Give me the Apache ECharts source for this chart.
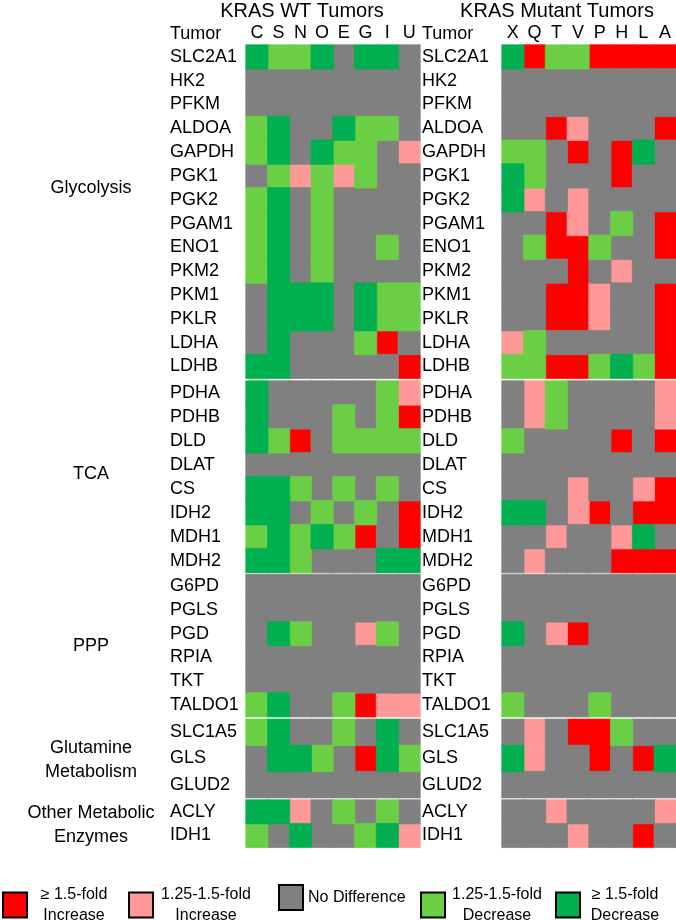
<!DOCTYPE html>
<html><head><meta charset="utf-8">
<script src="https://cdn.jsdelivr.net/npm/echarts/dist/echarts.min.js"></script>
<style>html,body{margin:0;padding:0;background:#fff}#c{width:676px;height:920px}</style>
</head><body><div id="c"></div>
<script>
const wtTumors = ['C','S','N','O','E','G','I','U'];
const mutTumors = ['X','Q','T','V','P','H','L','A'];
const groupNames = ['Glycolysis','TCA','PPP','Glutamine\nMetabolism','Other Metabolic\nEnzymes'];
const glycolysisGenes = ['SLC2A1','HK2','PFKM','ALDOA','GAPDH','PGK1','PGK2','PGAM1','ENO1','PKM2','PKM1','PKLR','LDHA','LDHB'];
const tcaGenes = ['PDHA','PDHB','DLD','DLAT','CS','IDH2','MDH1','MDH2'];
const pppGenes = ['G6PD','PGLS','PGD','RPIA','TKT','TALDO1'];
const glutamineGenes = ['SLC1A5','GLS','GLUD2'];
const otherGenes = ['ACLY','IDH1'];
// 2 = >=1.5 increase, 1 = 1.25-1.5 increase, 0 = no difference, -1 = 1.25-1.5 decrease, -2 = >=1.5 decrease
const wtGlycolysis = [
  [-2,-1,-1,-2,0,-2,-2,0],[0,0,0,0,0,0,0,0],[0,0,0,0,0,0,0,0],[-1,-2,0,0,-2,-1,-1,0],
  [-1,-2,0,-2,-1,-1,0,1],[0,-1,1,-1,1,-1,0,0],[-1,-2,0,-1,0,0,0,0],[-1,-2,0,-1,0,0,0,0],
  [-1,-2,0,-1,0,0,-1,0],[-1,-2,0,-1,0,0,0,0],[0,-2,-2,-2,0,-2,-1,-1],[0,-2,-2,-2,0,-2,-1,-1],
  [0,-2,0,0,0,-1,2,0],[-2,-2,0,0,0,0,0,2]];
const wtTca = [
  [-2,0,0,0,0,0,-1,1],[-2,0,0,0,-1,0,-1,2],[-2,-1,2,0,-1,-1,-1,-1],[0,0,0,0,0,0,0,0],
  [-2,-2,-1,0,-1,0,-1,0],[-2,-2,0,-1,0,-1,0,2],[-1,-2,-1,-2,-1,2,0,2],[-2,-2,-1,0,0,0,-2,-2]];
const wtPpp = [
  [0,0,0,0,0,0,0,0],[0,0,0,0,0,0,0,0],[0,-2,-1,0,0,1,-1,0],[0,0,0,0,0,0,0,0],
  [0,0,0,0,0,0,0,0],[-1,-2,0,0,-1,2,1,1]];
const wtGlutamine = [[-1,-2,0,0,-1,0,-2,0],[0,-2,-2,-1,0,2,-2,-1],[0,0,0,0,0,0,0,0]];
const wtOther = [[-2,-2,1,0,-1,0,-1,0],[-1,0,-2,0,0,-1,-2,1]];
const mutGlycolysis = [
  [-2,2,-1,-1,2,2,2,2],[0,0,0,0,0,0,0,0],[0,0,0,0,0,0,0,0],[0,0,2,1,0,0,0,2],
  [-1,-1,0,2,0,2,-2,0],[-2,-1,0,0,0,2,0,0],[-2,1,0,1,0,0,0,0],[0,0,2,1,0,-1,0,2],
  [0,-1,2,2,-1,0,0,2],[0,0,0,2,0,1,0,0],[0,0,2,2,1,0,0,2],[0,0,2,2,1,0,0,2],
  [1,-1,0,0,0,0,0,2],[-1,-1,2,2,-1,-2,-1,2]];
const mutTca = [
  [0,1,-1,0,0,0,0,1],[0,1,-1,0,0,0,0,1],[-1,0,0,0,0,2,0,2],[0,0,0,0,0,0,0,0],
  [0,0,0,1,0,0,1,2],[-2,-2,0,1,2,0,2,2],[0,0,1,0,0,1,-2,0],[0,1,0,0,0,2,2,2]];
const mutPpp = [
  [0,0,0,0,0,0,0,0],[0,0,0,0,0,0,0,0],[-2,0,1,2,0,0,0,0],[0,0,0,0,0,0,0,0],
  [0,0,0,0,0,0,0,0],[-1,0,0,0,-1,0,0,0]];
const mutGlutamine = [[0,1,0,2,2,-1,0,0],[-2,1,0,0,2,0,2,-2],[0,0,0,0,0,0,0,0]];
const mutOther = [[0,0,1,0,0,0,0,1],[0,0,0,1,0,0,2,0]];
const levels = [2,1,0,-1,-2];
const levelNames = ['≥ 1.5-fold Increase','1.25-1.5-fold Increase','No Difference','1.25-1.5-fold Decrease','≥ 1.5-fold Decrease'];
const levelColors = ['#FF0000','#FF9999','#808080','#6BCF45','#00B050'];

const FONT = 'Liberation Sans, Arial, Helvetica, sans-serif';
const groupGenes = [glycolysisGenes, tcaGenes, pppGenes, glutamineGenes, otherGenes];
const sides = [
  {cols: wtTumors, groups: [wtGlycolysis, wtTca, wtPpp, wtGlutamine, wtOther], left: 246, labelMargin: 76},
  {cols: mutTumors, groups: [mutGlycolysis, mutTca, mutPpp, mutGlutamine, mutOther], left: 502, labelMargin: 80}
];
const groupBox = [[45, 333.3], [381, 191.6], [574.5, 142.2], [719.3, 78.4], [800, 47.3]];

const grid = [], xAxis = [], yAxis = [], series = [];
sides.forEach((sd, s) => {
  sd.groups.forEach((vals, g) => {
    const gi = s * 5 + g;
    grid.push({left: sd.left, top: groupBox[g][0], width: 174, height: groupBox[g][1], containLabel: false, outerBoundsMode: 'none'});
    xAxis.push({type: 'category', gridIndex: gi, data: sd.cols, position: 'top', show: g === 0,
      axisLine: {show: false}, axisTick: {show: false}, splitLine: {show: false},
      axisLabel: {interval: 0, fontSize: 18, color: '#000', fontFamily: FONT, margin: 3}});
    yAxis.push({type: 'category', gridIndex: gi, data: groupGenes[g], inverse: true,
      axisLine: {show: false}, axisTick: {show: false}, splitLine: {show: false},
      axisLabel: {interval: 0, fontSize: 18, color: '#000', fontFamily: FONT, align: 'left', margin: sd.labelMargin}});
    levels.forEach((lv, li) => {
      const data = [];
      vals.forEach((row, r) => row.forEach((v, c) => { if (v === lv) data.push([c, r, v]); }));
      series.push({type: 'heatmap', name: levelNames[li], xAxisIndex: gi, yAxisIndex: gi, data: data,
        itemStyle: {color: levelColors[li], borderColor: levelColors[li], borderWidth: 0.7},
        emphasis: {disabled: true}, silent: true});
    });
  });
});

const legendWidths = [84, 96, 0, 94, 80];
const legendLefts = [2, 128, 278, 420, 555];
const legend = levelNames.map((nm, i) => ({
  data: [nm], left: legendLefts[i], top: 884, padding: 0, itemWidth: 24, itemHeight: 25, icon: 'rect',
  selectedMode: false, itemGap: 0,
  itemStyle: {borderColor: '#000', borderWidth: 2},
  textStyle: {fontSize: 16, color: '#000', fontFamily: FONT, lineHeight: 21,
    rich: {t: {width: legendWidths[i], align: 'center', fontSize: 16, lineHeight: 21, fontFamily: FONT, color: '#000'}}},
  formatter: function (name) {
    if (name === 'No Difference') return name;
    const k = name.indexOf('fold ') + 4;
    return '{t|' + name.slice(0, k) + '}\n{t|' + name.slice(k + 1) + '}';
  }
}));

const graphic = [];
graphic.push({type: 'text', x: 302, y: 11, style: {text: 'KRAS WT Tumors', fontSize: 20, fontFamily: FONT, fill: '#000', align: 'center', verticalAlign: 'middle'}});
graphic.push({type: 'text', x: 557, y: 11, style: {text: 'KRAS Mutant Tumors', fontSize: 20, fontFamily: FONT, fill: '#000', align: 'center', verticalAlign: 'middle'}});
graphic.push({type: 'text', x: 170, y: 34, style: {text: 'Tumor', fontSize: 18, fontFamily: FONT, fill: '#000', align: 'left', verticalAlign: 'middle'}});
graphic.push({type: 'text', x: 422, y: 34, style: {text: 'Tumor', fontSize: 18, fontFamily: FONT, fill: '#000', align: 'left', verticalAlign: 'middle'}});
const groupLabelY = [188, 474, 646, 760, 825];
groupNames.forEach((gn, g) => {
  graphic.push({type: 'text', x: 91, y: groupLabelY[g], style: {text: gn, fontSize: 18, fontFamily: FONT, fill: '#000', align: 'center', verticalAlign: 'middle', lineHeight: 24}});
});

const chart = echarts.init(document.getElementById('c'), null, {renderer: 'canvas'});
chart.setOption({
  animation: false,
  backgroundColor: '#fff',
  grid, xAxis, yAxis, series, legend, graphic
});
</script>
</body></html>
